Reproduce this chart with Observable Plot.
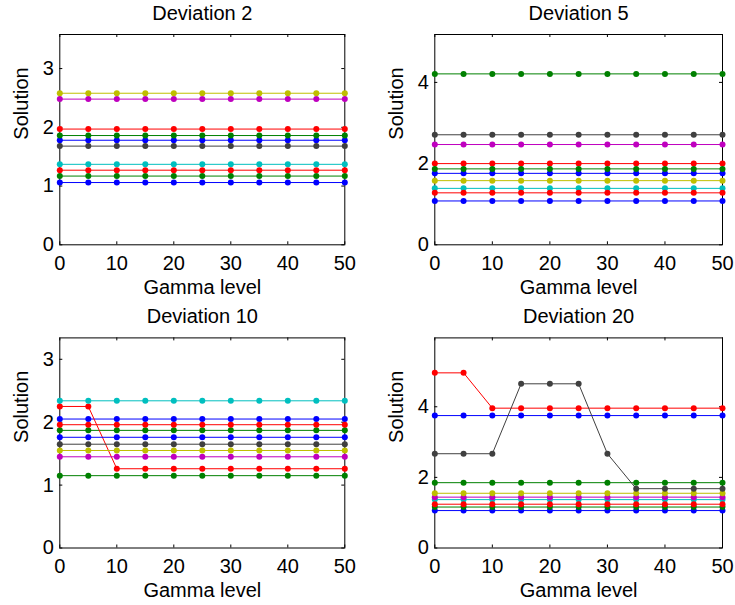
<!DOCTYPE html>
<html><head><meta charset="utf-8">
<script src="https://cdn.jsdelivr.net/npm/d3@7"></script>
<script src="https://cdn.jsdelivr.net/npm/@observablehq/plot@0.6"></script>
<style>
body{margin:0;background:#fff;}
#wrap{position:relative;width:735px;height:605px;overflow:hidden;background:#fff;}
#wrap svg{position:absolute;overflow:visible;}
</style></head><body><div id="wrap"></div>
<script>
const gamma = [0,5,10,15,20,25,30,35,40,45,50];
const seriesColors = ["#0000ff","#008000","#ff0000","#00bfbf","#bf00bf","#bfbf00","#404040","#0000ff","#008000","#ff0000"];
const xTicks = [0,10,20,30,40,50];
const panelTitles = ["Deviation 2","Deviation 5","Deviation 10","Deviation 20"];
const yTicksA = [0,1,2,3];
const yTicksB = [0,2,4];
const yMax = [3.58, 5.18, 3.34, 5.95];
const xLabel = "Gamma level";
const yLabel = "Solution";

const dev2 = [
  [1.78,1.78,1.78,1.78,1.78,1.78,1.78,1.78,1.78,1.78,1.78],
  [1.86,1.86,1.86,1.86,1.86,1.86,1.86,1.86,1.86,1.86,1.86],
  [1.97,1.97,1.97,1.97,1.97,1.97,1.97,1.97,1.97,1.97,1.97],
  [1.37,1.37,1.37,1.37,1.37,1.37,1.37,1.37,1.37,1.37,1.37],
  [2.48,2.48,2.48,2.48,2.48,2.48,2.48,2.48,2.48,2.48,2.48],
  [2.58,2.58,2.58,2.58,2.58,2.58,2.58,2.58,2.58,2.58,2.58],
  [1.68,1.68,1.68,1.68,1.68,1.68,1.68,1.68,1.68,1.68,1.68],
  [1.06,1.06,1.06,1.06,1.06,1.06,1.06,1.06,1.06,1.06,1.06],
  [1.17,1.17,1.17,1.17,1.17,1.17,1.17,1.17,1.17,1.17,1.17],
  [1.27,1.27,1.27,1.27,1.27,1.27,1.27,1.27,1.27,1.27,1.27]
];
const dev5 = [
  [1.76,1.76,1.76,1.76,1.76,1.76,1.76,1.76,1.76,1.76,1.76],
  [4.21,4.21,4.21,4.21,4.21,4.21,4.21,4.21,4.21,4.21,4.21],
  [2.00,2.00,2.00,2.00,2.00,2.00,2.00,2.00,2.00,2.00,2.00],
  [1.39,1.39,1.39,1.39,1.39,1.39,1.39,1.39,1.39,1.39,1.39],
  [2.47,2.47,2.47,2.47,2.47,2.47,2.47,2.47,2.47,2.47,2.47],
  [1.58,1.58,1.58,1.58,1.58,1.58,1.58,1.58,1.58,1.58,1.58],
  [2.71,2.71,2.71,2.71,2.71,2.71,2.71,2.71,2.71,2.71,2.71],
  [1.08,1.08,1.08,1.08,1.08,1.08,1.08,1.08,1.08,1.08,1.08],
  [1.87,1.87,1.87,1.87,1.87,1.87,1.87,1.87,1.87,1.87,1.87],
  [1.28,1.28,1.28,1.28,1.28,1.28,1.28,1.28,1.28,1.28,1.28]
];
const dev10 = [
  [2.05,2.05,2.05,2.05,2.05,2.05,2.05,2.05,2.05,2.05,2.05],
  [1.87,1.87,1.87,1.87,1.87,1.87,1.87,1.87,1.87,1.87,1.87],
  [2.25,2.25,1.26,1.26,1.26,1.26,1.26,1.26,1.26,1.26,1.26],
  [2.34,2.34,2.34,2.34,2.34,2.34,2.34,2.34,2.34,2.34,2.34],
  [1.45,1.45,1.45,1.45,1.45,1.45,1.45,1.45,1.45,1.45,1.45],
  [1.55,1.55,1.55,1.55,1.55,1.55,1.55,1.55,1.55,1.55,1.55],
  [1.65,1.65,1.65,1.65,1.65,1.65,1.65,1.65,1.65,1.65,1.65],
  [1.76,1.76,1.76,1.76,1.76,1.76,1.76,1.76,1.76,1.76,1.76],
  [1.15,1.15,1.15,1.15,1.15,1.15,1.15,1.15,1.15,1.15,1.15],
  [1.96,1.96,1.96,1.96,1.96,1.96,1.96,1.96,1.96,1.96,1.96]
];
const dev20 = [
  [3.75,3.75,3.75,3.75,3.75,3.75,3.75,3.75,3.75,3.75,3.75],
  [1.85,1.85,1.85,1.85,1.85,1.85,1.85,1.85,1.85,1.85,1.85],
  [4.96,4.96,3.96,3.96,3.96,3.96,3.96,3.96,3.96,3.96,3.96],
  [1.37,1.37,1.37,1.37,1.37,1.37,1.37,1.37,1.37,1.37,1.37],
  [1.44,1.44,1.44,1.44,1.44,1.44,1.44,1.44,1.44,1.44,1.44],
  [1.55,1.55,1.55,1.55,1.55,1.55,1.55,1.55,1.55,1.55,1.55],
  [2.67,2.67,2.67,4.65,4.65,4.65,2.67,1.68,1.68,1.68,1.68],
  [1.06,1.06,1.06,1.06,1.06,1.06,1.06,1.06,1.06,1.06,1.06],
  [1.16,1.16,1.16,1.16,1.16,1.16,1.16,1.16,1.16,1.16,1.16],
  [1.24,1.24,1.24,1.24,1.24,1.24,1.24,1.24,1.24,1.24,1.24]
];

const panels = [
  {left:0,   top:0,   w:367, h:302, ml:59.3, mr:22.7, mt:34,   mb:57.7, data:dev2,  yTicks:yTicksA},
  {left:367, top:0,   w:368, h:302, ml:67.3, mr:13,   mt:34,   mb:57.7, data:dev5,  yTicks:yTicksB},
  {left:0,   top:302, w:367, h:303, ml:59.3, mr:22.7, mt:35.4, mb:57.5, data:dev10, yTicks:yTicksA},
  {left:367, top:302, w:368, h:303, ml:67.3, mr:13,   mt:35.4, mb:57.5, data:dev20, yTicks:yTicksB}
];

const wrap = document.getElementById("wrap");
const font = "'Liberation Sans', Arial, Helvetica, sans-serif";
const tick = 3;

panels.forEach((p, i) => {
  const rows = [];
  p.data.forEach((arr, s) => arr.forEach((v, j) => rows.push({g: gamma[j], v, s})));
  const innerH = p.h - p.mt - p.mb, innerW = p.w - p.ml - p.mr;
  const svg = Plot.plot({
    width: p.w, height: p.h,
    marginLeft: p.ml, marginRight: p.mr, marginTop: p.mt, marginBottom: p.mb,
    style: {fontFamily: font, fontSize: "20px", color: "black", background: "transparent", overflow: "visible"},
    x: {domain: [0, 50], axis: null},
    y: {domain: [0, yMax[i]], axis: null},
    color: {type: "ordinal", domain: d3.range(10), range: seriesColors},
    marks: [
      Plot.frame({stroke: "black", strokeWidth: 1}),
      Plot.ruleX(xTicks, {x: d => d, insetTop: innerH - tick, stroke: "black"}),
      Plot.ruleX(xTicks, {x: d => d, insetBottom: innerH - tick, stroke: "black"}),
      Plot.ruleY(p.yTicks, {y: d => d, insetRight: innerW - tick, stroke: "black"}),
      Plot.ruleY(p.yTicks, {y: d => d, insetLeft: innerW - tick, stroke: "black"}),
      Plot.line(rows, {x: "g", y: "v", z: "s", stroke: "s", strokeWidth: 1}),
      Plot.dot(rows, {x: "g", y: "v", fill: "s", r: 3}),
      Plot.text(xTicks, {x: d => d, text: d => String(d), frameAnchor: "bottom", lineAnchor: "top", dy: 11, fontSize: 20, fill: "black"}),
      Plot.text(p.yTicks, {y: d => d, text: d => String(d), frameAnchor: "left", textAnchor: "end", dx: -6, fontSize: 20, fill: "black"}),
      Plot.text([panelTitles[i]], {text: d => d, frameAnchor: "top", lineAnchor: "top", dy: -29, fontSize: 20, fill: "black"}),
      Plot.text([xLabel], {text: d => d, frameAnchor: "bottom", lineAnchor: "top", dy: 35, fontSize: 20, fill: "black"}),
      Plot.text([yLabel], {text: d => d, frameAnchor: "left", rotate: -90, lineAnchor: "top", dx: -46.3, fontSize: 20, fill: "black"})
    ]
  });
  svg.style.position = "absolute";
  svg.style.left = p.left + "px";
  svg.style.top = p.top + "px";
  wrap.appendChild(svg);
});
</script>
</body></html>
